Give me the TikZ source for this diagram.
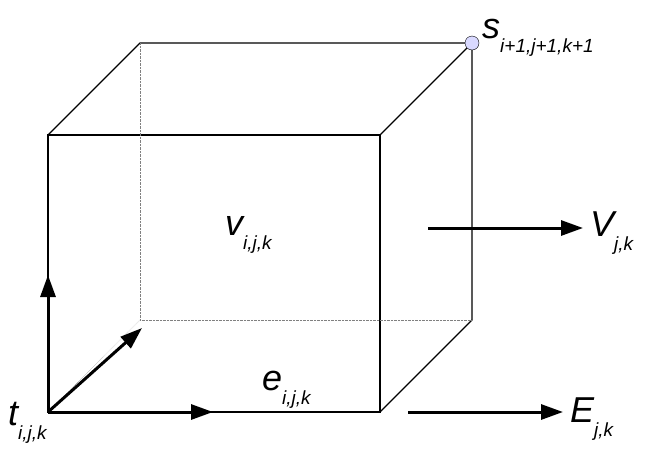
\documentclass[tikz,border=0pt]{standalone}
\usepackage{fontspec}
\setmainfont{Liberation Sans}
\usetikzlibrary{arrows.meta}
\tikzset{
  lbl/.style={font=\fontsize{36}{36}\selectfont\itshape, inner sep=0pt},
  vec/.style={line width=3pt, -{Triangle[length=22pt,width=15pt]}}
}
\newcommand{\subtxt}[1]{\raisebox{-14pt}{\fontsize{19}{19}\selectfont #1}}
\begin{document}
\begin{tikzpicture}[x=1pt, y=-1pt]
  \useasboundingbox (0,0) rectangle (646,456);
  % corners of the cube
  \coordinate (f1) at (48,135);  \coordinate (f2) at (380,135);
  \coordinate (f3) at (380,412); \coordinate (f4) at (48,412);
  \coordinate (b1) at (140,43);  \coordinate (b2) at (472,43);
  \coordinate (b3) at (472,320); \coordinate (b4) at (140,320);

  \draw[line width=1.4pt] (f1) -- (f2) -- (f3) -- (f4) -- cycle;
  \draw[line width=1.4pt] (f1) -- (b1) -- (b2) -- (b3) -- (f3);
  \draw[line width=1.4pt] (f2) -- (b2);
  \draw[densely dotted, gray] (b1) -- (b4) -- (b3);
  \draw[densely dotted, gray] (b4) -- (f4);

  \node[circle, draw, fill=blue!15!white, minimum size=14pt, inner sep=0pt] (s) at (b2) {};
  \node[lbl, anchor=base west] (slbl) at (482,38) {s\subtxt{i+1,j+1,k+1}};

  % basis arrows
  \coordinate (ax) at (213,412);
  \coordinate (ay) at (48,275);
  \coordinate (az) at (142,328);
  \draw[vec] (f4) -- (ax);
  \draw[vec] (f4) -- (ay);
  \draw[vec] (f4) -- (az);

  \node[lbl, anchor=base west] (t) at (8,425) {t\subtxt{i,j,k}};
  \node[lbl, anchor=base west] (v) at (225,235) {v\subtxt{i,j,k}};
  \node[lbl, anchor=base west] (e) at (262,390) {e\subtxt{i,j,k}};

  \coordinate (vs) at (428,228);
  \coordinate (ve) at (583,228);
  \node[lbl, anchor=base west] (V) at (590,236) {V\subtxt{j,k}};
  \draw[vec] (vs) -- (ve);
  \coordinate (es) at (408,412);
  \coordinate (ee) at (563,412);
  \node[lbl, anchor=base west] (E) at (570,422) {E\subtxt{j,k}};
  \draw[vec] (es) -- (ee);
\end{tikzpicture}
\end{document}
